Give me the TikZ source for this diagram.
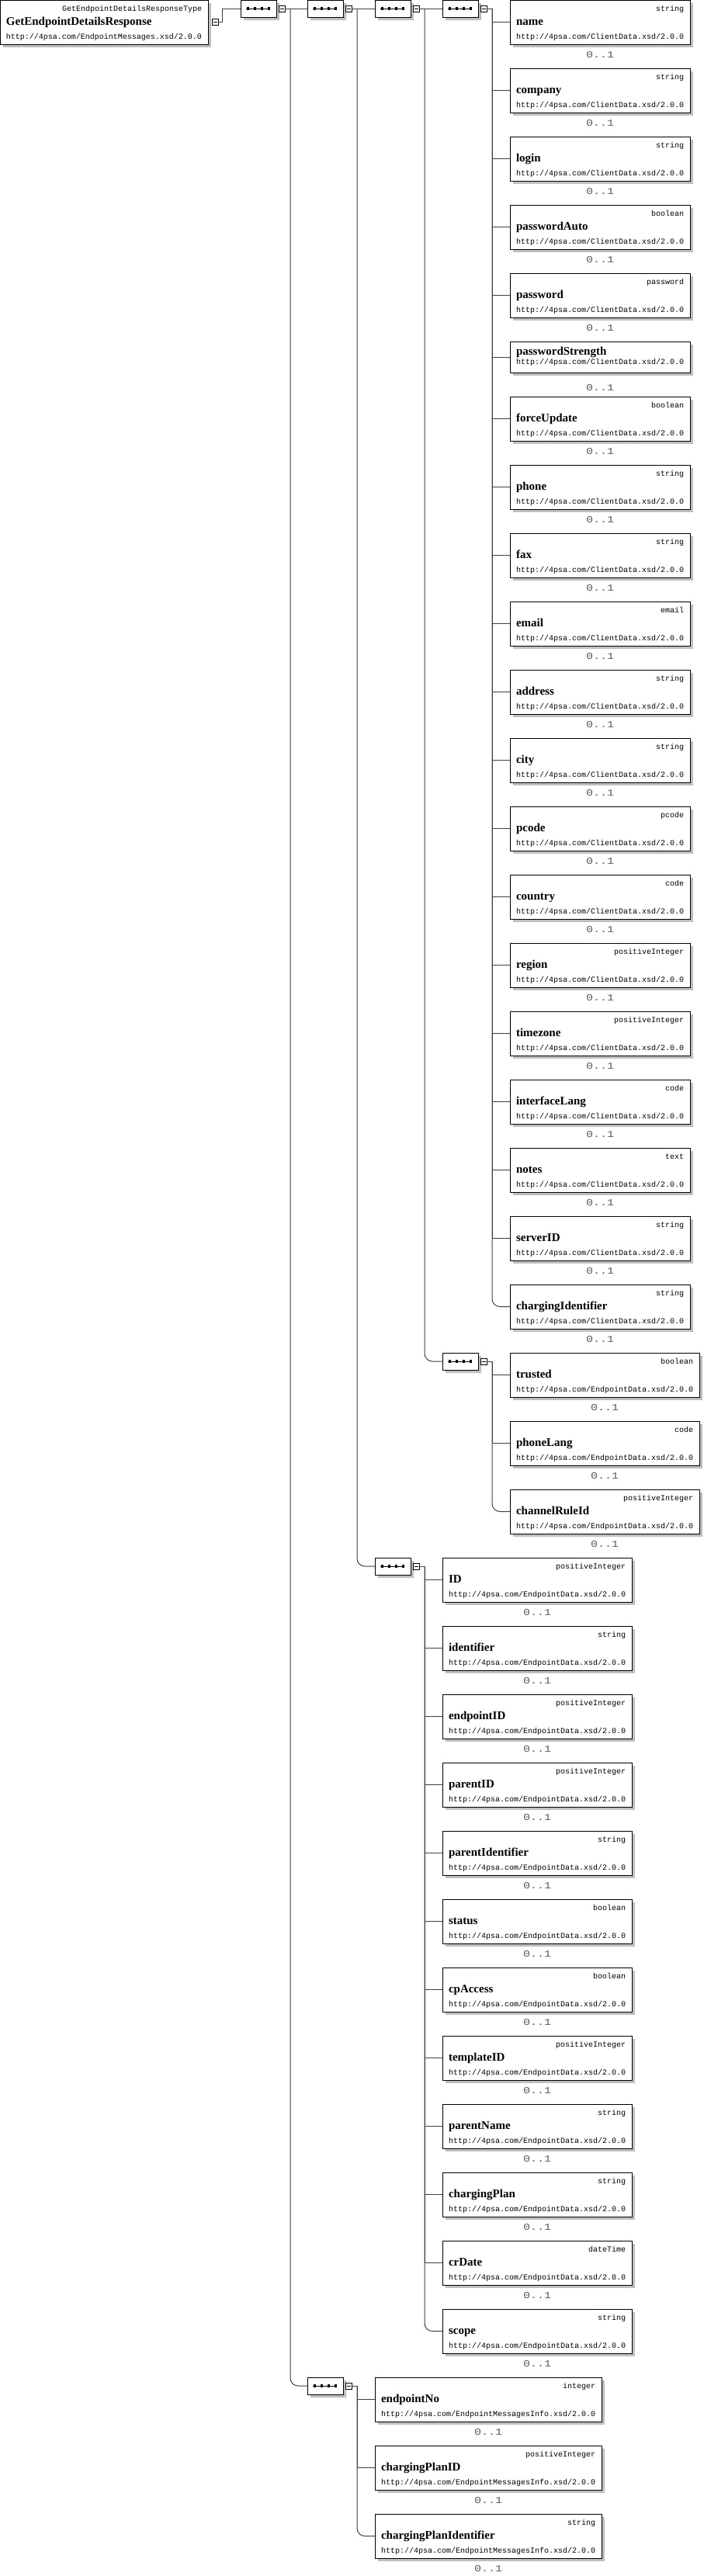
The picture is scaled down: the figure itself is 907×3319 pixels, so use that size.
\documentclass[tikz,border=0pt]{standalone}
\usepackage{fontspec}
\newfontfamily\xsdmono{Liberation Mono}
\newfontfamily\xsdserif{Liberation Serif}
\newfontfamily\xsdwide[FakeStretch=1.25]{Liberation Mono}
\usetikzlibrary{positioning,shapes.misc,shadows}

\newsavebox\urlbox
% type, element name, schema file
\newcommand\xsd[3]{%
    \sbox\urlbox{\fontsize{10pt}{10pt}\xsdmono http://4psa.com/#3.xsd/2.0.0}%
    \vbox{\hsize=\wd\urlbox \offinterlineskip
        \hbox to\hsize{\hfil\rule{0pt}{14pt}\smash{\fontsize{10pt}{10pt}\xsdmono #1}}%
        \hbox to\hsize{\rule{0pt}{18.5pt}\smash{\fontsize{15pt}{15pt}\xsdserif\bfseries #2}\hfil}%
        \hbox to\hsize{\rule[-7pt]{0pt}{24.5pt}\smash{\usebox\urlbox}\hfil}}}
% element without a type
\newcommand\xsdnotype[2]{%
    \sbox\urlbox{\fontsize{10pt}{10pt}\xsdmono http://4psa.com/#2.xsd/2.0.0}%
    \vbox{\hsize=\wd\urlbox \offinterlineskip
        \hbox to\hsize{\rule{0pt}{17pt}\smash{\fontsize{15pt}{15pt}\xsdserif\bfseries #1}\hfil}%
        \hbox to\hsize{\rule[-11pt]{0pt}{23pt}\smash{\usebox\urlbox}\hfil}}}

\tikzset{
    elem/.style = {
        draw,
        fill = white,
        line width = 0.9pt,
        inner xsep = 8pt,
        inner ysep = 0pt,
        outer sep = 0pt,
        drop shadow = {shadow xshift=4pt, shadow yshift=-4pt, fill=black!25, opacity=1},
        },
    seq/.style = {
        chamfered rectangle,
        chamfered rectangle sep = 5pt,
        draw,
        fill = white,
        line width = 0.9pt,
        minimum width = 46pt,
        minimum height = 22pt,
        inner sep = 0pt,
        outer sep = 0pt,
        drop shadow = {shadow xshift=4pt, shadow yshift=-4pt, fill=black!25, opacity=1},
        path picture = {
            \draw[black, line width=1pt] ([xshift=-16pt]path picture bounding box.center) -- ([xshift=15pt]path picture bounding box.center);
            \foreach \d in {-13.5,-4.5,4.5,13.5}
                \fill[black] ([xshift=\d pt]path picture bounding box.center) +(-1.7,-1.7) rectangle +(1.7,1.7);
            },
        },
    collapse/.style = {
        draw,
        fill = white,
        line width = 0.8pt,
        minimum size = 8pt,
        inner sep = 0pt,
        outer sep = 0pt,
        path picture = {
            \draw[black, line width=0.8pt] ([xshift=-2.5pt]path picture bounding box.center) -- ([xshift=2.5pt]path picture bounding box.center);
            },
        },
    mult/.style = {
        font = \fontsize{12pt}{12pt}\xsdwide,
        text = black!65,
        inner sep = 0pt,
        },
    conn/.style = {
        draw = black!75,
        line width = 1pt,
        },
    last/.style = {
        rounded corners = 10pt,
        },
    under/.style = {
        below = 31pt of #1.south west,
        anchor = north west,
        },
}

\begin{document}
\begin{tikzpicture}[x=1pt, y=1pt]
            \useasboundingbox (0,0) rectangle (907,-3319);

            \node[elem, anchor=north west] (root) at (0,0) {\xsd{GetEndpointDetailsResponseType}{GetEndpointDetailsResponse}{EndpointMessages}};
            \node[collapse, anchor=west] (c0) at ([xshift=5pt]root.east) {};

            \node[seq, anchor=north west] (s1) at (310,0) {};
            \node[collapse, right=3pt of s1] (c1) {};
            \node[seq, anchor=north west] (s2) at (396,0) {};
            \node[collapse, right=3pt of s2] (c2) {};
            \node[seq, anchor=north west] (s3) at (483,0) {};
            \node[collapse, right=3pt of s3] (c3) {};
            \node[seq, anchor=north west] (s4) at (570,0) {};
            \node[collapse, right=3pt of s4] (c4) {};

            % ClientData
            \node[elem, anchor=north west] (name) at (657,0) {\xsd{string}{name}{ClientData}};
            \node[elem, under=name] (company) {\xsd{string}{company}{ClientData}};
            \node[elem, under=company] (login) {\xsd{string}{login}{ClientData}};
            \node[elem, under=login] (passwordAuto) {\xsd{boolean}{passwordAuto}{ClientData}};
            \node[elem, under=passwordAuto] (password) {\xsd{password}{password}{ClientData}};
            \node[elem, under=password] (passwordStrength) {\xsdnotype{passwordStrength}{ClientData}};
            \node[elem, under=passwordStrength] (forceUpdate) {\xsd{boolean}{forceUpdate}{ClientData}};
            \node[elem, under=forceUpdate] (phone) {\xsd{string}{phone}{ClientData}};
            \node[elem, under=phone] (fax) {\xsd{string}{fax}{ClientData}};
            \node[elem, under=fax] (email) {\xsd{email}{email}{ClientData}};
            \node[elem, under=email] (address) {\xsd{string}{address}{ClientData}};
            \node[elem, under=address] (city) {\xsd{string}{city}{ClientData}};
            \node[elem, under=city] (pcode) {\xsd{pcode}{pcode}{ClientData}};
            \node[elem, under=pcode] (country) {\xsd{code}{country}{ClientData}};
            \node[elem, under=country] (region) {\xsd{positiveInteger}{region}{ClientData}};
            \node[elem, under=region] (timezone) {\xsd{positiveInteger}{timezone}{ClientData}};
            \node[elem, under=timezone] (interfaceLang) {\xsd{code}{interfaceLang}{ClientData}};
            \node[elem, under=interfaceLang] (notes) {\xsd{text}{notes}{ClientData}};
            \node[elem, under=notes] (serverID) {\xsd{string}{serverID}{ClientData}};
            \node[elem, under=serverID] (chargingIdentifier) {\xsd{string}{chargingIdentifier}{ClientData}};

            % EndpointData
            \node[elem, under=chargingIdentifier] (trusted) {\xsd{boolean}{trusted}{EndpointData}};
            \node[elem, under=trusted] (phoneLang) {\xsd{code}{phoneLang}{EndpointData}};
            \node[elem, under=phoneLang] (channelRuleId) {\xsd{positiveInteger}{channelRuleId}{EndpointData}};
            \node[seq, anchor=north west] (s4b) at (trusted.north -| s4.west) {};
            \node[collapse, right=3pt of s4b] (c4b) {};

            \node[elem, under=channelRuleId, xshift=-87pt] (ID) {\xsd{positiveInteger}{ID}{EndpointData}};
            \node[elem, under=ID] (identifier) {\xsd{string}{identifier}{EndpointData}};
            \node[elem, under=identifier] (endpointID) {\xsd{positiveInteger}{endpointID}{EndpointData}};
            \node[elem, under=endpointID] (parentID) {\xsd{positiveInteger}{parentID}{EndpointData}};
            \node[elem, under=parentID] (parentIdentifier) {\xsd{string}{parentIdentifier}{EndpointData}};
            \node[elem, under=parentIdentifier] (status) {\xsd{boolean}{status}{EndpointData}};
            \node[elem, under=status] (cpAccess) {\xsd{boolean}{cpAccess}{EndpointData}};
            \node[elem, under=cpAccess] (templateID) {\xsd{positiveInteger}{templateID}{EndpointData}};
            \node[elem, under=templateID] (parentName) {\xsd{string}{parentName}{EndpointData}};
            \node[elem, under=parentName] (chargingPlan) {\xsd{string}{chargingPlan}{EndpointData}};
            \node[elem, under=chargingPlan] (crDate) {\xsd{dateTime}{crDate}{EndpointData}};
            \node[elem, under=crDate] (scope) {\xsd{string}{scope}{EndpointData}};
            \node[seq, anchor=north west] (s3b) at (ID.north -| s3.west) {};
            \node[collapse, right=3pt of s3b] (c3b) {};

            % EndpointMessagesInfo
            \node[elem, under=scope, xshift=-87pt] (endpointNo) {\xsd{integer}{endpointNo}{EndpointMessagesInfo}};
            \node[elem, under=endpointNo] (chargingPlanID) {\xsd{positiveInteger}{chargingPlanID}{EndpointMessagesInfo}};
            \node[elem, under=chargingPlanID] (chargingPlanIdentifier) {\xsd{string}{chargingPlanIdentifier}{EndpointMessagesInfo}};
            \node[seq, anchor=north west] (s2b) at (endpointNo.north -| s2.west) {};
            \node[collapse, right=3pt of s2b] (c2b) {};

            % occurrences
            \foreach \e in {name,company,login,passwordAuto,password,forceUpdate,phone,fax,email,address,city,pcode,country,region,timezone,interfaceLang,notes,serverID,chargingIdentifier,trusted,phoneLang,channelRuleId,ID,identifier,endpointID,parentID,parentIdentifier,status,cpAccess,templateID,parentName,chargingPlan,crDate,scope,endpointNo,chargingPlanID,chargingPlanIdentifier}
                \node[mult] (\e-m) at ([yshift=-14pt]\e.south) {0..1};
            \node[mult] (passwordStrength-m) at ([yshift=-19.5pt]passwordStrength.south) {0..1};

            % connectors
            \draw[conn] (c0.east) -- ++(5,0) |- (s1.west);
            \draw[conn] (c1.east) -- ++(7,0) coordinate (t1);
            \draw[conn] (t1) |- (s2.west);
            \draw[conn, last] (t1) |- (s2b.west);
            \draw[conn] (c2.east) -- ++(7,0) coordinate (t2);
            \draw[conn] (t2) |- (s3.west);
            \draw[conn, last] (t2) |- (s3b.west);
            \draw[conn] (c3.east) -- ++(7,0) coordinate (t3);
            \draw[conn] (t3) |- (s4.west);
            \draw[conn, last] (t3) |- (s4b.west);

            \draw[conn] (c4.east) -- ++(7,0) coordinate (t4);
            \foreach \e in {name,company,login,passwordAuto,password,passwordStrength,forceUpdate,phone,fax,email,address,city,pcode,country,region,timezone,interfaceLang,notes,serverID}
                \draw[conn] (t4) |- (\e.west);
            \draw[conn, last] (t4) |- (chargingIdentifier.west);

            \draw[conn] (c4b.east) -- ++(7,0) coordinate (t4b);
            \draw[conn] (t4b) |- (trusted.west);
            \draw[conn] (t4b) |- (phoneLang.west);
            \draw[conn, last] (t4b) |- (channelRuleId.west);

            \draw[conn] (c3b.east) -- ++(7,0) coordinate (t3b);
            \foreach \e in {ID,identifier,endpointID,parentID,parentIdentifier,status,cpAccess,templateID,parentName,chargingPlan,crDate}
                \draw[conn] (t3b) |- (\e.west);
            \draw[conn, last] (t3b) |- (scope.west);

            \draw[conn] (c2b.east) -- ++(7,0) coordinate (t2b);
            \draw[conn] (t2b) |- (endpointNo.west);
            \draw[conn] (t2b) |- (chargingPlanID.west);
            \draw[conn, last] (t2b) |- (chargingPlanIdentifier.west);
\end{tikzpicture}
\end{document}
